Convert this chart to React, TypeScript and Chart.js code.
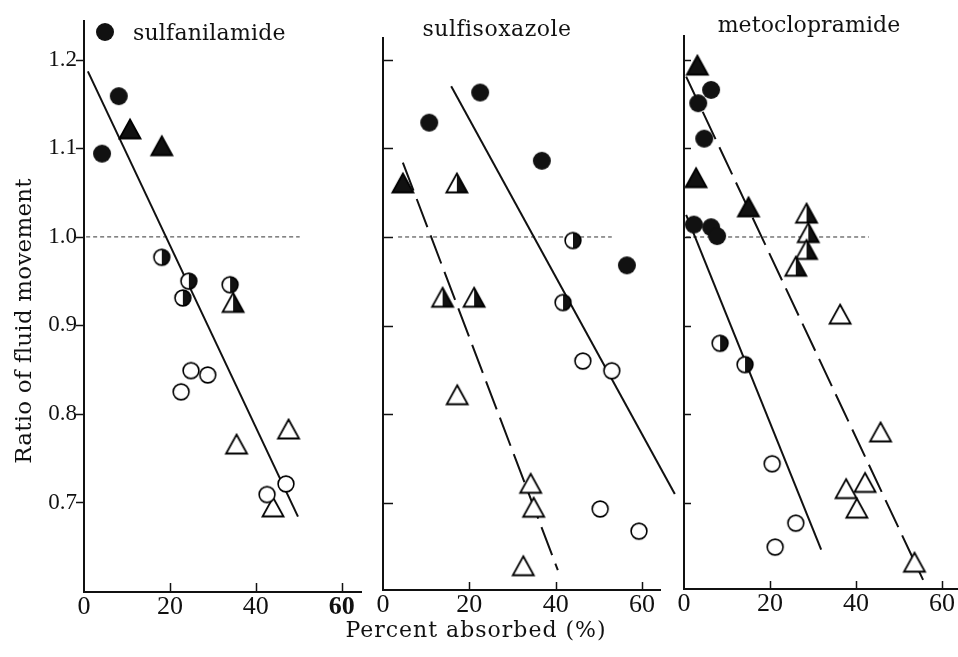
import React, { useEffect, useRef } from "react";
import { Chart, registerables } from "chart.js";

Chart.register(...registerables);

type Pt = { x: number; y: number };

// ---------- axis ticks & labels ----------
const X_TICKS = [0, 20, 40, 60];
const Y_TICKS = [0.7, 0.8, 0.9, 1.0, 1.1, 1.2];
const PANEL_TITLES = ["sulfanilamide", "sulfisoxazole", "metoclopramide"];
const X_TITLE = "Percent absorbed (%)";
const Y_TITLE = "Ratio of fluid movement";
const REFERENCE_RATIO = 1.0;

// ---------- sulfanilamide ----------
const sulfanilamideFilledCircles: Pt[] = [
  { x: 4.2, y: 1.094 },
  { x: 8.1, y: 1.159 },
];
const sulfanilamideFilledTriangles: Pt[] = [
  { x: 10.7, y: 1.122 },
  { x: 18.1, y: 1.103 },
];
const sulfanilamideHalfCircles: Pt[] = [
  { x: 18.1, y: 0.977 },
  { x: 24.4, y: 0.95 },
  { x: 23.0, y: 0.931 },
  { x: 34.0, y: 0.946 },
];
const sulfanilamideHalfTriangles: Pt[] = [{ x: 34.7, y: 0.926 }];
const sulfanilamideOpenCircles: Pt[] = [
  { x: 22.6, y: 0.825 },
  { x: 24.9, y: 0.849 },
  { x: 28.8, y: 0.844 },
  { x: 42.6, y: 0.709 },
  { x: 47.0, y: 0.721 },
];
const sulfanilamideOpenTriangles: Pt[] = [
  { x: 35.5, y: 0.766 },
  { x: 47.6, y: 0.783 },
  { x: 44.0, y: 0.695 },
];
const sulfanilamideSolidFit: Pt[] = [
  { x: 0.9, y: 1.187 },
  { x: 49.8, y: 0.684 },
];
const sulfanilamideRefSpan = [0.5, 50.2];

// ---------- sulfisoxazole ----------
const sulfisoxazoleFilledCircles: Pt[] = [
  { x: 10.7, y: 1.129 },
  { x: 22.5, y: 1.163 },
  { x: 36.8, y: 1.086 },
  { x: 56.5, y: 0.968 },
];
const sulfisoxazoleFilledTriangles: Pt[] = [{ x: 4.6, y: 1.061 }];
const sulfisoxazoleHalfCircles: Pt[] = [
  { x: 44.0, y: 0.996 },
  { x: 41.7, y: 0.926 },
];
const sulfisoxazoleHalfTriangles: Pt[] = [
  { x: 17.1, y: 1.061 },
  { x: 13.8, y: 0.932 },
  { x: 21.1, y: 0.932 },
];
const sulfisoxazoleOpenCircles: Pt[] = [
  { x: 46.3, y: 0.86 },
  { x: 53.0, y: 0.849 },
  { x: 50.3, y: 0.693 },
  { x: 59.3, y: 0.668 },
];
const sulfisoxazoleOpenTriangles: Pt[] = [
  { x: 17.2, y: 0.822 },
  { x: 34.2, y: 0.722 },
  { x: 34.9, y: 0.695 },
  { x: 32.5, y: 0.629 },
];
const sulfisoxazoleSolidFit: Pt[] = [
  { x: 15.8, y: 1.17 },
  { x: 67.6, y: 0.71 },
];
const sulfisoxazoleDashedFit: Pt[] = [
  { x: 4.6, y: 1.084 },
  { x: 40.5, y: 0.624 },
];
const sulfisoxazoleRefSpan = [3.5, 53.0];

// ---------- metoclopramide ----------
const metoclopramideFilledCircles: Pt[] = [
  { x: 6.3, y: 1.166 },
  { x: 3.3, y: 1.151 },
  { x: 4.7, y: 1.111 },
  { x: 2.3, y: 1.014 },
  { x: 6.3, y: 1.011 },
  { x: 7.7, y: 1.001 },
];
const metoclopramideFilledTriangles: Pt[] = [
  { x: 3.1, y: 1.194 },
  { x: 2.8, y: 1.067 },
  { x: 15.0, y: 1.034 },
];
const metoclopramideHalfCircles: Pt[] = [
  { x: 8.4, y: 0.88 },
  { x: 14.2, y: 0.856 },
];
const metoclopramideHalfTriangles: Pt[] = [
  { x: 28.5, y: 1.027 },
  { x: 28.9, y: 1.005 },
  { x: 28.5, y: 0.986 },
  { x: 26.0, y: 0.967 },
];
const metoclopramideOpenCircles: Pt[] = [
  { x: 20.5, y: 0.744 },
  { x: 26.0, y: 0.677 },
  { x: 21.2, y: 0.65 },
];
const metoclopramideOpenTriangles: Pt[] = [
  { x: 36.3, y: 0.913 },
  { x: 45.7, y: 0.78 },
  { x: 42.1, y: 0.723 },
  { x: 37.7, y: 0.716 },
  { x: 40.2, y: 0.694 },
  { x: 53.6, y: 0.633 },
];
const metoclopramideSolidFit: Pt[] = [
  { x: 0.5, y: 1.025 },
  { x: 31.9, y: 0.647 },
];
const metoclopramideDashedFit: Pt[] = [
  { x: 0.5, y: 1.181 },
  { x: 55.6, y: 0.613 },
];
const metoclopramideRefSpan = [0.5, 43.0];

// ---------- styling / layout ----------
const CW = 1000;
const CH = 657;
const TICK_FONT = "'Liberation Serif', 'Times New Roman', serif";
const TEXT_FONT = "'DejaVu Serif', 'Liberation Serif', serif";
const INK = "#111111";

type Layout = {
  left: number; right: number; top: number; bottom: number;
  xMax: number; yMin: number; yMax: number;
  yLabels: boolean; yTickOut: boolean; yTickLen: number; xTickLen: number; yW: number;
};

const LAYOUTS: Layout[] = [
  { left: 84, right: 362, top: 20, bottom: 591, xMax: 64.7, yMin: 0.6, yMax: 1.245, yLabels: true, yTickOut: true, yTickLen: 8, xTickLen: 8, yW: 84 },
  { left: 383, right: 661, top: 37, bottom: 589, xMax: 64.4, yMin: 0.6027, yMax: 1.2257, yLabels: false, yTickOut: false, yTickLen: 10, xTickLen: 7, yW: 10 },
  { left: 684, right: 963.5, top: 35, bottom: 588, xMax: 65, yMin: 0.6038, yMax: 1.228, yLabels: false, yTickOut: false, yTickLen: 7, xTickLen: 7, yW: 10 },
];

type TextItem = {
  text: string; x: number; y: number; size: number; spacing: number;
  align: CanvasTextAlign; rotate?: number; legendMarker?: { x: number; y: number };
};

const TEXTS: TextItem[][] = [
  [
    { text: PANEL_TITLES[0], x: 133, y: 40, size: 22, spacing: 0.2, align: "left", legendMarker: { x: 105, y: 32 } },
    { text: Y_TITLE, x: 31, y: 321, size: 23, spacing: 0.2, align: "center", rotate: -Math.PI / 2 },
  ],
  [
    { text: PANEL_TITLES[1], x: 497, y: 36, size: 22, spacing: 0.5, align: "center" },
    { text: X_TITLE, x: 476, y: 637, size: 22, spacing: 1, align: "center" },
  ],
  [{ text: PANEL_TITLES[2], x: 809, y: 32, size: 22, spacing: 0.1, align: "center" }],
];

type Markers = Record<string, HTMLCanvasElement>;

function makeMarker(kind: string): HTMLCanvasElement {
  const c = document.createElement("canvas");
  const ctx = c.getContext("2d")!;
  ctx.strokeStyle = INK;
  ctx.lineJoin = "miter";
  if (kind.startsWith("circle")) {
    c.width = 22;
    c.height = 22;
    const cx = 11, cy = 11;
    if (kind === "circleFilled") {
      ctx.beginPath();
      ctx.arc(cx, cy, 9, 0, Math.PI * 2);
      ctx.fillStyle = INK;
      ctx.fill();
    } else {
      const r = 7.9;
      ctx.lineWidth = 1.6;
      ctx.beginPath();
      ctx.arc(cx, cy, r, 0, Math.PI * 2);
      ctx.fillStyle = "#fff";
      ctx.fill();
      if (kind === "circleHalf") {
        ctx.beginPath();
        ctx.moveTo(cx, cy - r);
        ctx.arc(cx, cy, r, -Math.PI / 2, Math.PI / 2);
        ctx.closePath();
        ctx.fillStyle = INK;
        ctx.fill();
      }
      ctx.beginPath();
      ctx.arc(cx, cy, r, 0, Math.PI * 2);
      ctx.stroke();
    }
  } else {
    c.width = 26;
    c.height = 24;
    const ax = 13, ay = 2.5, by = 21.5, lx = 2.5, rx = 23.5;
    const tri = () => {
      ctx.beginPath();
      ctx.moveTo(ax, ay);
      ctx.lineTo(rx, by);
      ctx.lineTo(lx, by);
      ctx.closePath();
    };
    ctx.lineWidth = 1.8;
    tri();
    ctx.fillStyle = kind === "triFilled" ? INK : "#fff";
    ctx.fill();
    if (kind === "triHalf") {
      ctx.beginPath();
      ctx.moveTo(ax, ay);
      ctx.lineTo(rx, by);
      ctx.lineTo(ax, by);
      ctx.closePath();
      ctx.fillStyle = INK;
      ctx.fill();
    }
    tri();
    ctx.stroke();
  }
  return c;
}

function markerSet(data: Pt[], img: HTMLCanvasElement) {
  return {
    data,
    pointStyle: img,
    pointRadius: 8,
    pointHoverRadius: 8,
    showLine: false,
    clip: false,
    order: 0,
  };
}

function lineSet(data: Pt[], dash: number[], width: number, color: string) {
  return {
    data,
    showLine: true,
    borderColor: color,
    borderWidth: width,
    borderDash: dash,
    pointRadius: 0,
    pointHoverRadius: 0,
    fill: false,
    tension: 0,
    clip: false,
    order: 5,
  };
}

function refLine(span: number[]) {
  return lineSet(
    [
      { x: span[0], y: REFERENCE_RATIO },
      { x: span[1], y: REFERENCE_RATIO },
    ],
    [4, 3],
    1,
    "#333333"
  );
}

function buildDatasets(i: number, m: Markers): any[] {
  const LONG_DASH = [30, 9];
  if (i === 0) {
    return [
      markerSet(sulfanilamideFilledCircles, m.circleFilled),
      markerSet(sulfanilamideFilledTriangles, m.triFilled),
      markerSet(sulfanilamideHalfCircles, m.circleHalf),
      markerSet(sulfanilamideHalfTriangles, m.triHalf),
      markerSet(sulfanilamideOpenCircles, m.circleOpen),
      markerSet(sulfanilamideOpenTriangles, m.triOpen),
      lineSet(sulfanilamideSolidFit, [], 2, INK),
      refLine(sulfanilamideRefSpan),
    ];
  }
  if (i === 1) {
    return [
      markerSet(sulfisoxazoleFilledCircles, m.circleFilled),
      markerSet(sulfisoxazoleFilledTriangles, m.triFilled),
      markerSet(sulfisoxazoleHalfCircles, m.circleHalf),
      markerSet(sulfisoxazoleHalfTriangles, m.triHalf),
      markerSet(sulfisoxazoleOpenCircles, m.circleOpen),
      markerSet(sulfisoxazoleOpenTriangles, m.triOpen),
      lineSet(sulfisoxazoleSolidFit, [], 2, INK),
      lineSet(sulfisoxazoleDashedFit, LONG_DASH, 2, INK),
      refLine(sulfisoxazoleRefSpan),
    ];
  }
  return [
    markerSet(metoclopramideFilledCircles, m.circleFilled),
    markerSet(metoclopramideFilledTriangles, m.triFilled),
    markerSet(metoclopramideHalfCircles, m.circleHalf),
    markerSet(metoclopramideHalfTriangles, m.triHalf),
    markerSet(metoclopramideOpenCircles, m.circleOpen),
    markerSet(metoclopramideOpenTriangles, m.triOpen),
    lineSet(metoclopramideSolidFit, [], 2, INK),
    lineSet(metoclopramideDashedFit, LONG_DASH, 2, INK),
    refLine(metoclopramideRefSpan),
  ];
}

function axisPlugin(L: Layout) {
  return {
    id: "axisFrame",
    afterDraw(chart: any) {
      const { ctx, chartArea, scales } = chart;
      ctx.save();
      ctx.strokeStyle = INK;
      ctx.lineCap = "butt";
      ctx.lineWidth = 2;
      ctx.beginPath();
      ctx.moveTo(chartArea.left, chartArea.top);
      ctx.lineTo(chartArea.left, chartArea.bottom + 1);
      ctx.lineTo(chartArea.right, chartArea.bottom + 1);
      ctx.stroke();
      ctx.lineWidth = 1.5;
      ctx.beginPath();
      for (const v of X_TICKS) {
        if (v === 0) continue;
        const px = Math.round(scales.x.getPixelForValue(v)) + 0.5;
        ctx.moveTo(px, chartArea.bottom);
        ctx.lineTo(px, chartArea.bottom - L.xTickLen);
      }
      for (const v of Y_TICKS) {
        const py = Math.round(scales.y.getPixelForValue(v)) + 0.5;
        if (L.yTickOut) {
          ctx.moveTo(chartArea.left - L.yTickLen, py);
          ctx.lineTo(chartArea.left, py);
        } else {
          ctx.moveTo(chartArea.left, py);
          ctx.lineTo(chartArea.left + L.yTickLen, py);
        }
      }
      ctx.stroke();
      ctx.restore();
    },
  };
}

function textPlugin(items: TextItem[], legendImg: HTMLCanvasElement) {
  return {
    id: "panelText",
    afterDraw(chart: any) {
      const ctx = chart.ctx as CanvasRenderingContext2D;
      for (const it of items) {
        ctx.save();
        ctx.font = `${it.size}px ${TEXT_FONT}`;
        ctx.fillStyle = INK;
        (ctx as any).letterSpacing = `${it.spacing}px`;
        ctx.textAlign = it.align;
        ctx.textBaseline = "alphabetic";
        ctx.translate(it.x, it.y);
        if (it.rotate) ctx.rotate(it.rotate);
        ctx.fillText(it.text, 0, 0);
        ctx.restore();
        if (it.legendMarker) {
          ctx.drawImage(
            legendImg,
            it.legendMarker.x - legendImg.width / 2,
            it.legendMarker.y - legendImg.height / 2
          );
        }
      }
    },
  };
}

function buildConfig(i: number, m: Markers): any {
  const L = LAYOUTS[i];
  return {
    type: "scatter",
    data: { datasets: buildDatasets(i, m) },
    options: {
      animation: false,
      responsive: false,
      devicePixelRatio: 1,
      events: [],
      layout: {
        padding: { left: L.left - L.yW, top: L.top, right: CW - L.right, bottom: 0 },
      },
      plugins: {
        legend: { display: false },
        tooltip: { enabled: false },
        title: { display: false },
      },
      scales: {
        x: {
          type: "linear",
          min: 0,
          max: L.xMax,
          grid: { display: false, drawTicks: false },
          border: { display: false },
          afterBuildTicks: (s: any) => {
            s.ticks = X_TICKS.map((v) => ({ value: v }));
          },
          afterFit: (s: any) => {
            s.height = CH - L.bottom;
          },
          ticks: {
            padding: 3,
            color: INK,
            autoSkip: false,
            maxRotation: 0,
            font: (c: any) => ({
              family: TICK_FONT,
              size: 26,
              lineHeight: 1,
              weight: i === 0 && c.tick && c.tick.value === 60 ? "bold" : "normal",
            }),
            callback: (v: any) => String(v),
          },
        },
        y: {
          type: "linear",
          min: L.yMin,
          max: L.yMax,
          grid: { display: false, drawTicks: false },
          border: { display: false },
          afterBuildTicks: (s: any) => {
            s.ticks = Y_TICKS.map((v) => ({ value: v }));
          },
          afterFit: (s: any) => {
            s.width = L.yW;
          },
          ticks: {
            display: L.yLabels,
            padding: 7,
            color: INK,
            autoSkip: false,
            font: { family: TICK_FONT, size: 23, lineHeight: 1 },
            callback: (v: any) => Number(v).toFixed(1),
          },
        },
      },
    },
    plugins: [axisPlugin(L), textPlugin(TEXTS[i], m.circleFilled)],
  };
}

export default function App() {
  const r0 = useRef<HTMLCanvasElement>(null);
  const r1 = useRef<HTMLCanvasElement>(null);
  const r2 = useRef<HTMLCanvasElement>(null);

  useEffect(() => {
    const markers: Markers = {
      circleFilled: makeMarker("circleFilled"),
      circleOpen: makeMarker("circleOpen"),
      circleHalf: makeMarker("circleHalf"),
      triFilled: makeMarker("triFilled"),
      triOpen: makeMarker("triOpen"),
      triHalf: makeMarker("triHalf"),
    };
    const refs = [r0, r1, r2];
    const charts = refs.map((r, i) => new Chart(r.current!, buildConfig(i, markers)));
    return () => charts.forEach((c) => c.destroy());
  }, []);

  const canvasStyle: React.CSSProperties = {
    position: "absolute",
    left: 0,
    top: 0,
    width: CW,
    height: CH,
  };

  return (
    <div
      style={{
        position: "fixed",
        left: 0,
        top: 0,
        width: 958,
        height: 657,
        overflow: "hidden",
        background: "#ffffff",
      }}
    >
      <canvas ref={r0} width={CW} height={CH} style={canvasStyle} />
      <canvas ref={r1} width={CW} height={CH} style={canvasStyle} />
      <canvas ref={r2} width={CW} height={CH} style={canvasStyle} />
    </div>
  );
}
